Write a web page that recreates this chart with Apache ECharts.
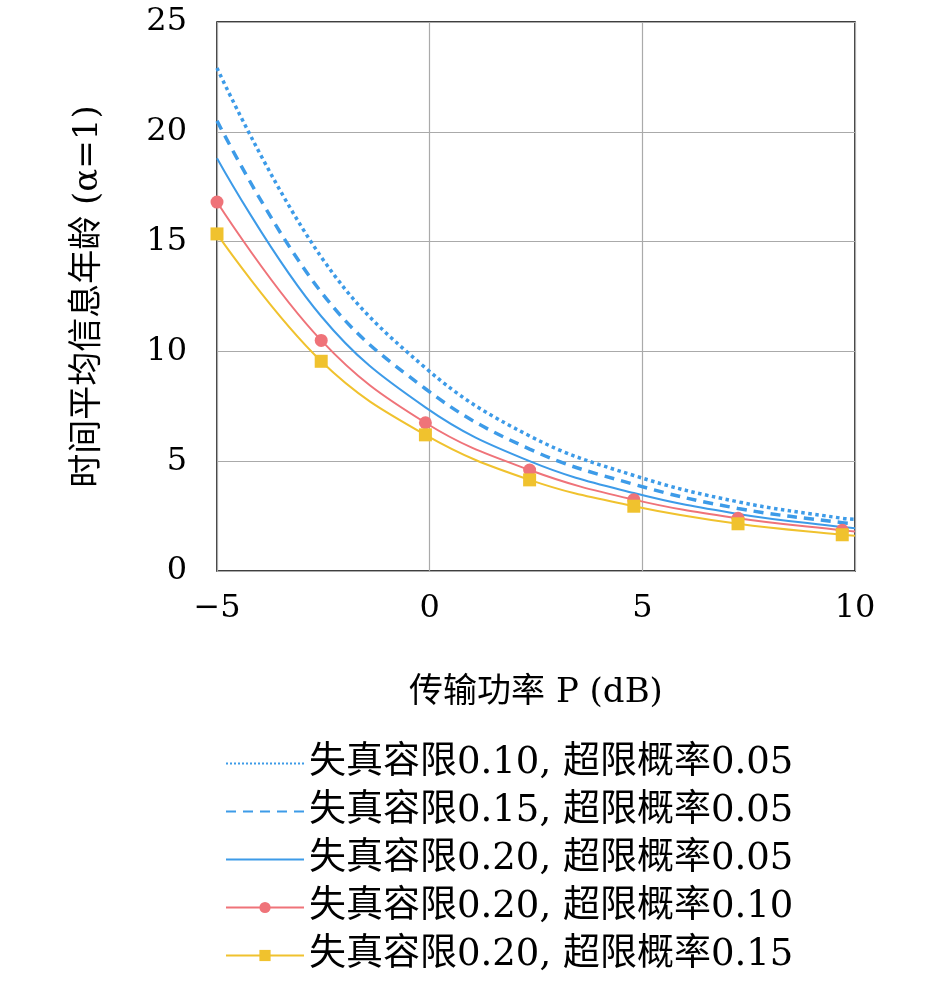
<!DOCTYPE html>
<html><head><meta charset="utf-8">
<script src="https://cdn.jsdelivr.net/npm/echarts@6/dist/echarts.min.js"></script>
<style>html,body{margin:0;padding:0;background:#fff}#c{width:945px;height:1006px}</style>
</head><body><div id="c"></div>
<script>
const xs = [-5, -2.55, -0.1, 2.35, 4.8, 7.25, 9.7, 10];
const names = ['失真容限0.10, 超限概率0.05','失真容限0.15, 超限概率0.05','失真容限0.20, 超限概率0.05','失真容限0.20, 超限概率0.10','失真容限0.20, 超限概率0.15'];
const dotted = [22.9, 14.3, 9.25, 6.15, 4.35, 3.15, 2.4, 2.35];
const dashed = [20.5, 12.7, 8.3, 5.55, 3.95, 2.85, 2.2, 2.15];
const solid  = [18.8, 11.6, 7.45, 5.0, 3.55, 2.6, 2.0, 1.95];
const red    = [16.8, 10.5, 6.75, 4.6, 3.25, 2.4, 1.85, 1.8];
const yellow = [15.35, 9.55, 6.2, 4.15, 2.95, 2.15, 1.65, 1.6];
const F = "'DejaVu Serif','Noto Sans CJK SC',serif";
function pts(v, mark){return xs.map((x,i)=>{const o={value:[x,v[i]]}; if(!mark||i===xs.length-1) o.symbol='none'; return o;});}
function ser(name, v, color, type, width, sym){
  return {name, type:'line', smooth:0.4, data:pts(v, !!sym), symbol:sym||'none', symbolSize:13,
    showSymbol: !!sym, lineStyle:{color, width, type}, itemStyle:{color}};
}
const chart = echarts.init(document.getElementById('c'));
chart.setOption({
  animation:false,
  grid:{left:217, right:90, top:22, bottom:435, show:true, borderColor:'#000', borderWidth:1.5},
  xAxis:{type:'value', min:-5, max:10, interval:5, name:'传输功率 P (dB)', nameLocation:'middle', nameGap:105,
    nameTextStyle:{fontSize:34, fontFamily:F, color:'#000'},
    axisLine:{show:false}, axisTick:{show:false},
    axisLabel:{fontSize:32, fontFamily:F, color:'#000', margin:22, formatter:v=>v<0?'−'+(-v):v},
    splitLine:{lineStyle:{color:'#aaa', width:1.2}}},
  yAxis:{type:'value', min:0, max:25, interval:5, name:'时间平均信息年龄 (α=1)', nameLocation:'middle', nameGap:112,
    nameTextStyle:{fontSize:34, fontFamily:F, color:'#000'},
    axisLine:{show:false}, axisTick:{show:false},
    axisLabel:{fontSize:32, fontFamily:F, color:'#000', margin:30},
    splitLine:{lineStyle:{color:'#aaa', width:1.2}}},
  legend:{orient:'vertical', left:220, top:740, itemGap:11, itemWidth:78, itemHeight:14,
    textStyle:{fontSize:37, fontFamily:F, color:'#000'},
    data:[{name:names[0], itemStyle:{opacity:0}},{name:names[1], itemStyle:{opacity:0}},{name:names[2], itemStyle:{opacity:0}},names[3],names[4]]},
  series:[
    ser(names[0], dotted, '#3d9be8', 'dotted', 3.5),
    ser(names[1], dashed, '#3d9be8', [10,7], 3.5),
    ser(names[2], solid, '#3d9be8', 'solid', 2),
    ser(names[3], red, '#ef7379', 'solid', 2, 'circle'),
    ser(names[4], yellow, '#f0c22e', 'solid', 2, 'rect')
  ]
});
</script></body></html>
